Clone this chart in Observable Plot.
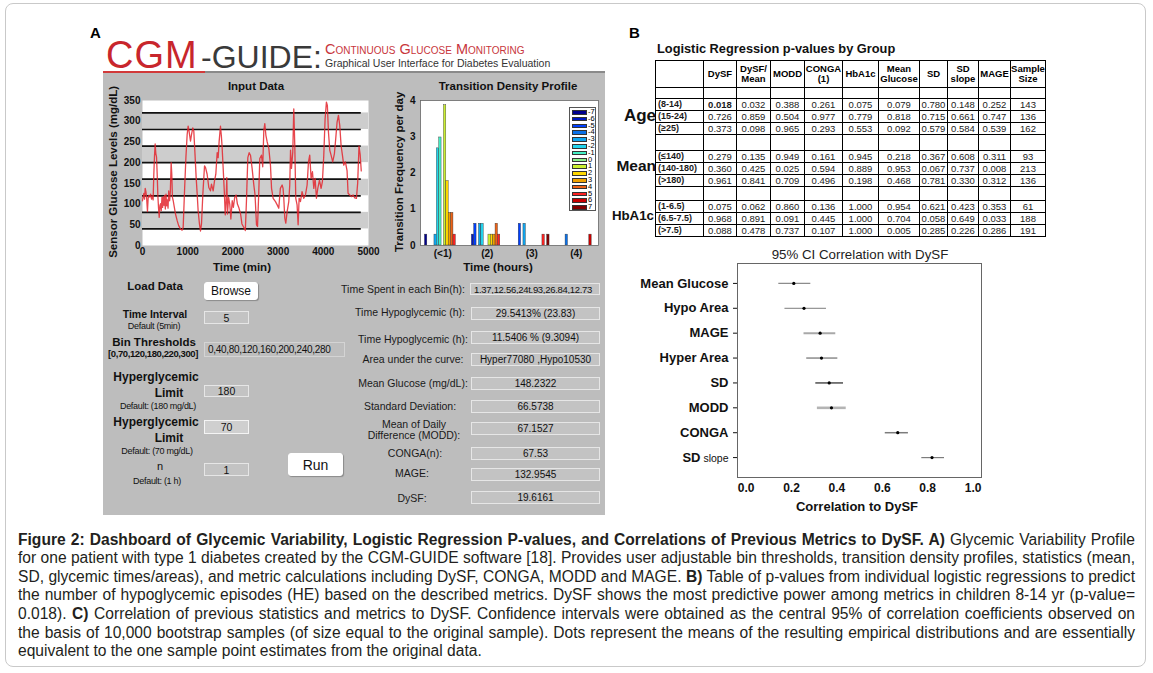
<!DOCTYPE html>
<html><head><meta charset="utf-8">
<script src="https://cdn.jsdelivr.net/npm/d3@7"></script>
<script src="https://cdn.jsdelivr.net/npm/@observablehq/plot@0.6"></script>
<style>
body{margin:0;background:#fff;font-family:"Liberation Sans",Arial,Helvetica,sans-serif;}
#root{position:relative;width:1153px;height:673px;overflow:hidden;background:#fff;}
#pv{position:absolute;left:655px;top:60px;border-collapse:collapse;table-layout:fixed;width:390px;font-family:"Liberation Sans",Arial,sans-serif;}
#pv td{border:1.5px solid #000;padding:0;text-align:center;vertical-align:middle;font-size:9.5px;line-height:9.5px;color:#1a1a1a;overflow:hidden;white-space:nowrap;}
#pv td.hd{font-weight:bold;line-height:10px;color:#000;}
#pv td.rl{text-align:left;font-weight:bold;font-size:9px;padding-left:2px;}
</style></head>
<body><div id="root"></div>
<script>
// ---------------- DATA ----------------
const cgmTime = [0,15,30,45,60,75,90,110,125,140,160,180,200,220,235,250,265,280,295,310,325,340,355,370,385,400,415,430,445,460,475,490,505,520,535,550,565,580,600,615,634,648,662,680,700,730,767,800,840,877,900,930,960,988,1010,1030,1062,1085,1113,1135,1158,1187,1210,1231,1260,1283,1305,1335,1372,1395,1430,1467,1504,1526,1563,1593,1622,1652,1674,1696,1725,1745,1760,1785,1810,1830,1850,1865,1880,1905,1930,1955,1985,2010,2040,2070,2100,2130,2170,2200,2240,2275,2300,2330,2360,2389,2425,2463,2490,2522,2545,2573,2595,2632,2660,2684,2706,2730,2758,2795,2831,2855,2890,2942,2980,3015,3050,3089,3110,3126,3148,3170,3200,3236,3258,3275,3296,3325,3347,3369,3391,3420,3443,3465,3494,3530,3568,3605,3642,3672,3700,3730,3760,3790,3819,3848,3878,3915,3951,3980,4010,4040,4069,4090,4114,4143,4172,4208,4246,4275,4305,4335,4364,4393,4423,4452,4489,4526,4548,4585,4622,4659,4696,4733,4760,4790,4815,4840];
const cgmGlucose = [108,118,126,112,138,130,117,82,114,121,117,124,112,120,110,170,215,245,222,214,172,120,90,68,96,101,84,116,92,118,97,121,88,124,96,110,90,132,108,128,200,172,116,108,95,76,60,48,40,37,44,132,212,268,288,276,252,268,284,276,228,164,124,84,52,35,52,124,192,188,172,140,132,148,132,156,172,224,212,252,288,264,240,186,130,74,108,164,76,116,100,64,108,92,116,122,100,92,76,52,44,36,108,212,224,218,186,146,122,50,46,130,210,218,190,278,294,266,250,234,194,138,114,106,98,90,138,146,138,114,66,54,82,106,146,230,186,226,330,242,114,98,50,114,106,130,114,122,146,202,218,162,178,138,162,114,138,158,138,154,216,306,346,338,274,230,218,202,222,258,298,314,290,242,218,194,202,180,126,122,118,122,115,114,150,240,220,180];
const cgmThresholds = [40,80,120,160,200,240,280,320];
const cgmBandLow = [40,120,200,280];
const cgmBandHigh = [80,160,240,320];
const cgmXTicks = [0,1000,2000,3000,4000,5000];
const cgmYTicks = [0,50,100,150,200,250,300,350];

const tdHour = [1,1,1,1,1,1,1,1,1, 2,2,2,2,2,2,2,2,2, 3,3,3,3, 4,4];
const tdSize = [-7,-3,-2,-1,1,2,3,4,5, -6,-5,-3,-2,1,2,3,4,5, -5,-3,5,7, -4,6];
const tdFreq = [0.3,0.3,2.68,2.98,3.87,1.78,0.9,0.9,0.3, 0.3,0.6,0.6,0.6,0.3,0.3,0.3,0.6,0.3, 0.6,0.6,0.3,0.3, 0.3,0.3];
const tdLegendSizes = [-7,-6,-5,-4,-3,-2,-1,0,1,2,3,4,5,6,7];
const tdHourTicks = [1,2,3,4];
const tdHourLabels = ["(<1)","(2)","(3)","(4)"];
const tdYTicks = [0,1,2,3,4];

const ciMetrics = ["Mean Glucose","Hypo Area","MAGE","Hyper Area","SD","MODD","CONGA","SD slope"];
const ciMean = [0.21,0.255,0.326,0.332,0.366,0.376,0.668,0.819];
const ciLow  = [0.144,0.171,0.255,0.267,0.307,0.314,0.613,0.774];
const ciHigh = [0.285,0.354,0.395,0.404,0.429,0.441,0.715,0.874];
const ciXTicks = [0,0.2,0.4,0.6,0.8,1.0];

const pvColumns = ["DySF","DySF/\nMean","MODD","CONGA\n(1)","HbA1c","Mean\nGlucose","SD","SD\nslope","MAGE","Sample\nSize"];
const pvGroups = ["Age","Mean","HbA1c"];
const pvRowLabels = ["(8-14)","(15-24)","(\u226525)","(\u2264140)","(140-180)","(>180)","(1-6.5)","(6.5-7.5)","(>7.5)"];
const pvValues = [
  [0.018,0.032,0.388,0.261,0.075,0.079,0.780,0.148,0.252],
  [0.726,0.859,0.504,0.977,0.779,0.818,0.715,0.661,0.747],
  [0.373,0.098,0.965,0.293,0.553,0.092,0.579,0.584,0.539],
  [0.279,0.135,0.949,0.161,0.945,0.218,0.367,0.608,0.311],
  [0.360,0.425,0.025,0.594,0.889,0.953,0.067,0.737,0.008],
  [0.961,0.841,0.709,0.496,0.198,0.468,0.781,0.330,0.312],
  [0.075,0.062,0.860,0.136,1.000,0.954,0.621,0.423,0.353],
  [0.968,0.891,0.091,0.445,1.000,0.704,0.058,0.649,0.033],
  [0.088,0.478,0.737,0.107,1.000,0.005,0.285,0.226,0.286]
];
const pvSampleSize = [143,136,162,93,213,136,61,188,191];

const guiInputLabels = ["Load Data","Time Interval","Bin Thresholds","Hyperglycemic","Hyperglycemic","n"];
const guiInputNotes = ["","Default (5min)","[0,70,120,180,220,300]","Default: (180 mg/dL)","Default: (70 mg/dL)","Default: (1 h)"];
const guiInputValues = ["Browse","5","0,40,80,120,160,200,240,280","180","70","1","Run"];
const guiOutputLabels = ["Time Spent in each Bin(h):","Time Hypoglycemic (h):","Time Hypoglycemic (h):","Area under the curve:","Mean Glucose (mg/dL):","Standard Deviation:","Mean of Daily\nDifference (MODD):","CONGA(n):","MAGE:","DySF:"];
const guiOutputValues = ["1.37,12.56,24t.93,26.84,12.73","29.5413%  (23.83)","11.5406 % (9.3094)","Hyper77080 ,Hypo10530","148.2322","66.5738","67.1527","67.53","132.9545","19.6161"];

const captionLines = [
  "<b>Figure 2: Dashboard of Glycemic Variability, Logistic Regression P-values, and Correlations of Previous Metrics to DySF. A)</b> Glycemic Variability Profile",
  "for one patient with type 1 diabetes created by the CGM-GUIDE software [18]. Provides user adjustable bin thresholds, transition density profiles, statistics (mean,",
  "SD, glycemic times/areas), and metric calculations including DySF, CONGA, MODD and MAGE. <b>B)</b> Table of p-values from individual logistic regressions to predict",
  "the number of hypoglycemic episodes (HE) based on the described metrics. DySF shows the most predictive power among metrics in children 8-14 yr (p-value=",
  "0.018). <b>C)</b> Correlation of previous statistics and metrics to DySF. Confidence intervals were obtained as the central 95% of correlation coefficients observed on",
  "the basis of 10,000 bootstrap samples (of size equal to the original sample). Dots represent the means of the resulting empirical distributions and are essentially",
  "equivalent to the one sample point estimates from the original data."
];

// ---------------- HELPERS ----------------
const FONT = '"Liberation Sans", Arial, Helvetica, sans-serif';
const root = document.getElementById("root");
function div(css, html) {
  const d = document.createElement("div");
  d.style.cssText = "position:absolute;" + css;
  if (html !== undefined) d.innerHTML = html;
  root.appendChild(d);
  return d;
}
function txt(str, x, y, o = {}) {
  const size = o.size || 11, lh = o.lh || size * 1.2, W = 600;
  const align = o.align || "center";
  let css = `white-space:nowrap;font-size:${size}px;line-height:${lh}px;font-weight:${o.bold ? "bold" : "normal"};color:${o.color || "#111"};font-family:${o.family || FONT};top:${y - lh / 2}px;`;
  if (o.ls) css += `letter-spacing:${o.ls}px;`;
  if (align === "center") css += `left:${x - W / 2}px;width:${W}px;text-align:center;`;
  else if (align === "right") css += `left:${x - W}px;width:${W}px;text-align:right;`;
  else css += `left:${x}px;`;
  if (o.rotate) css += `transform:rotate(${o.rotate}deg);`;
  const d = div(css);
  if (o.html) d.innerHTML = str; else d.textContent = str;
  return d;
}
function box(x1, y1, x2, y2, str, o = {}) {
  const d = div(`left:${x1}px;top:${y1}px;width:${x2 - x1}px;height:${y2 - y1}px;box-sizing:border-box;background:${o.bg || "#c3c3c3"};border:1px solid ${o.border || "#e6e6e6"};${o.extra || ""}display:flex;align-items:center;justify-content:${o.left ? "flex-start" : "center"};padding-left:${o.left ? 3 : 0}px;font-size:${o.size || 10}px;${o.ls ? "letter-spacing:" + o.ls + "px;" : ""}color:#111;white-space:nowrap;overflow:hidden;font-family:${FONT};`);
  d.textContent = str;
  return d;
}

// outer frame
div("left:5px;top:3px;width:1141px;height:664px;border:1px solid #c9c9c9;border-radius:8px;box-sizing:border-box;");

// ---------------- PANEL A ----------------
txt("A", 90, 33, {size: 15, bold: true, align: "left", color: "#000"});
txt("CGM", 106, 55, {size: 38, align: "left", color: "#c8262c", ls: 1, lh: 40});
txt("-GUIDE:", 201, 57, {size: 32, align: "left", color: "#3a3a3a", lh: 36});
txt("Continuous Glucose Monitoring", 325, 50, {size: 14.5, align: "left", color: "#c8363c"}).style.fontVariant = "small-caps";
txt("Graphical User Interface for Diabetes Evaluation", 325, 63, {size: 10.5, align: "left", color: "#333"});

div("left:103px;top:73px;width:502px;height:442px;background:#bdbdbd;");
div("left:103px;top:71px;width:502px;height:2px;background:#8a8a8a;");
div("left:103px;top:71px;width:102px;height:2px;background:#d23a3a;");

// CGM trace plot
const cgmData = cgmTime.map((t, i) => ({t, g: cgmGlucose[i]}));
const bands = cgmBandLow.map((lo, i) => ({lo, hi: cgmBandHigh[i]}));
const tStart = cgmTime[0], tEnd = cgmTime[cgmTime.length - 1];
const cgmPlot = Plot.plot({
  width: 270, height: 200, marginLeft: 39, marginRight: 5, marginTop: 22, marginBottom: 33,
  style: {background: "transparent", fontFamily: FONT, fontSize: "10px", fontWeight: "bold", color: "#111", overflow: "visible"},
  x: {domain: [0, 5000], ticks: cgmXTicks, tickFormat: d3.format("d"), tickSize: 0, tickPadding: 2, label: null},
  y: {domain: [0, 350], ticks: cgmYTicks, tickFormat: d3.format("d"), tickSize: 0, tickPadding: 2, label: null},
  marks: [
    Plot.frame({fill: "white", stroke: "none"}),
    Plot.rect(bands, {y1: "lo", y2: "hi", fill: "#cdcdcd"}),
    Plot.ruleY(cgmThresholds, {x1: () => tStart, x2: () => tEnd, stroke: "#111", strokeWidth: 1.7}),
    Plot.line(cgmData, {x: "t", y: "g", stroke: "#e3262e", strokeWidth: 1.3, strokeOpacity: 0.85})
  ]
});
cgmPlot.style.position = "absolute"; cgmPlot.style.left = "103px"; cgmPlot.style.top = "78px";
root.appendChild(cgmPlot);
txt("Input Data", 256, 87, {size: 11.5, bold: true});
txt("Sensor Glucose Levels (mg/dL)", 114, 172, {size: 11.5, bold: true, rotate: -90});
txt("Time (min)", 242, 268, {size: 11.5, bold: true});

// Transition density plot
const tdColors = ["#00008f","#0018c0","#0040ff","#0a70e8","#10a6f0","#22d4ee","#44efc4","#8cf08a","#cbef30","#ffd800","#f0a200","#ee6216","#ff2222","#c80000","#820000"];
const slotW = 0.8 / tdLegendSizes.length;
const tdData = tdHour.map((h, i) => ({h, s: tdSize[i], f: tdFreq[i]}));
const tdPlot = Plot.plot({
  width: 225, height: 200, marginLeft: 40, marginRight: 7, marginTop: 22, marginBottom: 33,
  style: {background: "transparent", fontFamily: FONT, fontSize: "10px", fontWeight: "bold", color: "#111", overflow: "visible"},
  x: {domain: [0.5, 4.5], ticks: tdHourTicks, tickFormat: d => tdHourLabels[tdHourTicks.indexOf(d)], tickSize: 0, tickPadding: 4, label: null},
  y: {domain: [0, 4], ticks: tdYTicks, tickFormat: d3.format("d"), tickSize: 0, tickPadding: 5, label: null},
  color: {type: "ordinal", domain: tdLegendSizes, range: tdColors},
  marks: [
    Plot.frame({fill: "white", stroke: "none"}),
    Plot.rect(tdData, {
      x1: d => d.h - 0.4 + tdLegendSizes.indexOf(d.s) * slotW,
      x2: d => d.h - 0.4 + (tdLegendSizes.indexOf(d.s) + 1) * slotW,
      y1: () => 0, y2: "f", fill: "s", stroke: "#333", strokeWidth: 0.4
    }),
    Plot.frame({stroke: "#666", strokeWidth: 0.8})
  ]
});
tdPlot.style.position = "absolute"; tdPlot.style.left = "380px"; tdPlot.style.top = "78px";
root.appendChild(tdPlot);
txt("Transition Density Profile", 508, 87, {size: 11.5, bold: true});
txt("Transition Frequency per day", 400, 172, {size: 11.5, bold: true, rotate: -90});
txt("Time (hours)", 498, 268, {size: 11.5, bold: true});
// legend
const lg = div("left:569px;top:107px;width:27px;height:104px;background:#fff;border:1px solid #555;box-sizing:border-box;");
tdLegendSizes.forEach((s, i) => {
  const r = document.createElement("div");
  r.style.cssText = `position:absolute;left:1px;top:${1 + i * 6.8}px;height:6.8px;width:26px;`;
  r.innerHTML = `<div style="position:absolute;left:1px;top:1px;width:15px;height:4.5px;background:${tdColors[i]};border:0.5px solid #333;box-sizing:border-box"></div><div style="position:absolute;left:17px;top:-1px;font-size:7.5px;line-height:8px;font-family:${FONT};color:#111">${s}</div>`;
  lg.appendChild(r);
});

// GUI form - left column
txt(guiInputLabels[0], 155, 287, {size: 11.5, bold: true});
box(204, 282, 258, 300, guiInputValues[0], {bg: "#fff", border: "#fff", size: 12, extra: "border-radius:3px;box-shadow:1px 1px 1px #8a8a8a;"});
txt(guiInputLabels[1], 155, 314, {size: 10.5, bold: true});
txt(guiInputNotes[1], 154, 326, {size: 9, ls: -0.3});
box(204, 311, 249, 324, guiInputValues[1], {size: 10.5});
txt(guiInputLabels[2], 154, 343, {size: 11.5, bold: true});
txt(guiInputNotes[2], 153, 354, {size: 9.5, bold: true, ls: -0.4});
box(204, 342, 345, 357, guiInputValues[2], {size: 10, ls: -0.3, left: true, bg: "#bebebe", border: "#d4d4d4"});
txt(guiInputLabels[3], 156, 377, {size: 12, bold: true});
txt("Limit", 169, 393, {size: 12, bold: true});
txt(guiInputNotes[3], 158, 406, {size: 9, ls: -0.3});
box(204, 385, 249, 397, guiInputValues[3], {size: 10.5});
txt(guiInputLabels[4], 156, 422, {size: 12, bold: true});
txt("Limit", 169, 438, {size: 12, bold: true});
txt(guiInputNotes[4], 157, 451, {size: 9, ls: -0.3});
box(204, 420, 249, 434, guiInputValues[4], {size: 10.5, bg: "#cfcfcf", border: "#f4f4f4"});
txt(guiInputLabels[5], 160, 467, {size: 11});
txt(guiInputNotes[5], 157, 481, {size: 9, ls: -0.3});
box(204, 463, 249, 476, guiInputValues[5], {size: 10.5});
box(288, 453, 343, 476, guiInputValues[6], {bg: "#fff", border: "#fff", size: 14, extra: "border-radius:3px;box-shadow:1px 1px 1px #8a8a8a;"});

// GUI form - output column
const outLabelY = [289, 312, 339, 359, 383, 406, null, 453, 473, 498];
const outLabelX = [403, 410, 413, 413, 413, 410, 414, 415, 412, 412];
const outBoxY = [[283,295],[307,320],[331,344],[353,366],[377,390],[400,413],[422,435],[447,460],[468,481],[491,504]];
guiOutputLabels.forEach((l, i) => {
  if (l.includes("\n")) {
    const parts = l.split("\n");
    txt(parts[0], outLabelX[i], 424, {size: 10.5, color: "#1a1a1a"});
    txt(parts[1], outLabelX[i], 435, {size: 10.5, color: "#1a1a1a"});
  } else {
    txt(l, outLabelX[i], outLabelY[i], {size: 10.5, color: "#1a1a1a"});
  }
  box(i === 0 ? 470 : 471, outBoxY[i][0], 600, outBoxY[i][1], guiOutputValues[i], i === 0 ? {size: 9.5, ls: -0.3, left: true} : {size: 10});
});

// ---------------- PANEL B ----------------
txt("B", 629, 33, {size: 15, bold: true, align: "left", color: "#000"});
txt("Logistic Regression p-values by Group", 657, 49, {size: 12.8, bold: true, align: "left", color: "#111"});
const colW = [48,33,34,34,38,36,41,28,31,32,35];
let th = "<colgroup>" + colW.map(w => `<col style="width:${w}px">`).join("") + "</colgroup>";
th += `<tr style="height:27px"><td></td>${pvColumns.map(c => `<td class="hd">${c.replace("\n", "<br>")}</td>`).join("")}</tr>`;
const emptyRow = ht => `<tr style="height:${ht}px">${colW.map(() => "<td></td>").join("")}</tr>`;
th += emptyRow(11);
pvGroups.forEach((g, gi) => {
  if (gi > 0) th += emptyRow(gi === 1 ? 16 : 14);
  for (let r = 0; r < 3; r++) {
    const idx = gi * 3 + r;
    th += `<tr style="height:12px"><td class="rl">${pvRowLabels[idx]}</td>` +
      pvValues[idx].map((v, c) => `<td${idx === 0 && c === 0 ? ' style="font-weight:bold"' : ""}>${v.toFixed(3)}</td>`).join("") +
      `<td>${pvSampleSize[idx]}</td></tr>`;
  }
});
const tbl = document.createElement("table");
tbl.id = "pv";
tbl.innerHTML = th;
root.appendChild(tbl);
txt(pvGroups[0], 656, 116, {size: 17, bold: true, align: "right", color: "#111"});
txt(pvGroups[1], 656, 166, {size: 15.5, bold: true, align: "right", color: "#111"});
txt(pvGroups[2], 654, 216, {size: 13.3, bold: true, align: "right", color: "#111"});

// ---------------- PANEL C ----------------
const ciData = ciMetrics.map((m, i) => ({m, mean: ciMean[i], lo: ciLow[i], hi: ciHigh[i]}));
const ciStyle = {"Mean Glucose": ["#8c8c8c", 1.2], "Hypo Area": ["#7c7c7c", 1.0], "MAGE": ["#a8a8a8", 2.0], "Hyper Area": ["#8c8c8c", 1.5],
  "SD": ["#333", 1.3], "MODD": ["#b4b4b4", 2.6], "CONGA": ["#7c7c7c", 1.5], "SD slope": ["#7c7c7c", 1.2]};
const ciPlot = Plot.plot({
  width: 370, height: 260, marginLeft: 117, marginRight: 9, marginTop: 5, marginBottom: 41,
  style: {background: "transparent", fontFamily: FONT, fontSize: "13px", fontWeight: "bold", color: "#111", overflow: "visible"},
  x: {domain: [-0.038, 1.037], ticks: ciXTicks, tickFormat: d3.format(".1f"), tickSize: 0, tickPadding: 6, label: null},
  y: {type: "point", domain: ciMetrics, padding: 0.8, round: false, tickSize: 4, tickPadding: 5, label: null},
  marks: [
    Plot.frame({stroke: "#666"}),
    ...ciData.map(d => Plot.ruleY([d], {y: "m", x1: "lo", x2: "hi", stroke: ciStyle[d.m][0], strokeWidth: ciStyle[d.m][1]})),
    Plot.dot(ciData, {x: "mean", y: "m", r: 1.6, fill: "#000", stroke: "none"})
  ]
});
ciPlot.style.position = "absolute"; ciPlot.style.left = "620px"; ciPlot.style.top = "258px";
root.appendChild(ciPlot);
d3.select(ciPlot).selectAll('[aria-label="x-axis tick label"] text, [aria-label="x-axis"] text').style("font-size", "12px");
d3.select(ciPlot).selectAll("text").filter(function () { return this.textContent === "SD slope"; }).each(function () {
  const t = d3.select(this);
  t.text("");
  t.append("tspan").text("SD");
  t.append("tspan").attr("font-size", "10.5px").attr("font-weight", "normal").text(" slope");
});
txt("95% CI Correlation with DySF", 860, 255, {size: 13.3, color: "#222"});
txt("Correlation to DySF", 857, 507, {size: 13, bold: true});

// ---------------- CAPTION ----------------
const capW = 1117;
const cap = div(`left:18px;top:530.5px;width:${capW}px;font-size:15.6px;line-height:18.67px;color:#231f20;font-family:${FONT};`);
captionLines.forEach((l, i) => {
  const line = document.createElement("div");
  line.style.cssText = "white-space:nowrap;height:18.67px;";
  const sp = document.createElement("span");
  sp.innerHTML = l;
  line.appendChild(sp);
  cap.appendChild(line);
  if (i < captionLines.length - 1) {
    const w = sp.getBoundingClientRect().width;
    const n = (sp.textContent.match(/ /g) || []).length;
    sp.style.wordSpacing = ((capW - w) / n) + "px";
  }
});
</script></body></html>
